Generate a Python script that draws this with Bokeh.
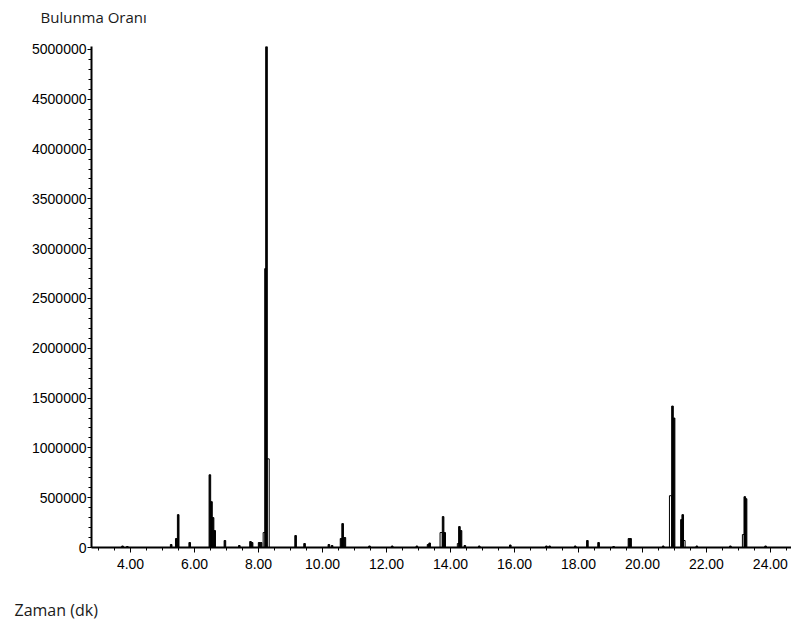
from bokeh.plotting import figure
from bokeh.models import Range1d, SingleIntervalTicker, BasicTickFormatter, NumeralTickFormatter, Title
from bokeh.embed import file_html
from bokeh.resources import INLINE

# Filled (black) peaks: retention time (min), abundance
peak_t = [3.75, 3.9, 5.27, 5.43, 5.49, 5.85, 6.48, 6.53, 6.58, 6.63, 6.95, 7.4, 7.75, 7.8,
          8.02, 8.08, 8.22, 8.25, 9.16, 9.44, 10.2, 10.3, 10.58, 10.63, 10.7, 11.47, 12.18,
          12.95, 13.3, 13.35, 13.77, 13.82, 14.28, 14.33, 14.45, 14.9, 15.87, 17.0, 17.1,
          17.9, 18.28, 18.63, 19.1, 19.58, 19.63, 20.65, 20.94, 20.99, 21.22, 21.26,
          21.7, 22.75, 23.2, 23.24, 23.85]
peak_h = [15000, 10000, 30000, 90000, 330000, 50000, 730000, 460000, 300000, 170000, 70000,
          20000, 60000, 50000, 50000, 50000, 2800000, 5050000, 120000, 40000, 30000, 20000,
          90000, 240000, 100000, 15000, 15000, 15000, 30000, 45000, 310000, 150000, 210000,
          170000, 20000, 15000, 25000, 15000, 15000, 15000, 70000, 50000, 10000, 90000,
          90000, 15000, 1420000, 1300000, 280000, 330000, 15000, 15000, 510000, 490000, 15000]

# Open (outlined) peaks
open_t = [8.18, 8.3, 13.71, 14.25, 20.88, 21.3, 23.16]
open_h = [150000, 890000, 150000, 40000, 520000, 70000, 130000]

p = figure(width=791, height=627, output_backend="svg", toolbar_location=None,
           x_range=Range1d(2.78, 24.66), y_range=Range1d(0, 5030000),
           min_border_left=91, min_border_top=46, min_border_bottom=80, min_border_right=0)
p.outline_line_color = None
p.grid.grid_line_color = None
p.background_fill_color = "white"
p.border_fill_color = "white"

p.vbar(x=open_t, top=open_h, width=0.07, fill_color="white", line_color="black", line_width=1)
p.vbar(x=peak_t, top=peak_h, width=0.05, fill_color="black", line_color="black", line_width=1)

xa = p.xaxis[0]
xa.ticker = SingleIntervalTicker(interval=2, num_minor_ticks=4)
xa.formatter = NumeralTickFormatter(format="0.00")
ya = p.yaxis[0]
ya.ticker = SingleIntervalTicker(interval=500000, num_minor_ticks=5)
ya.formatter = BasicTickFormatter(use_scientific=False)
for ax in (xa, ya):
    ax.axis_line_color = "black"
    ax.axis_line_width = 2
    ax.major_tick_line_color = "black"
    ax.minor_tick_line_color = "black"
    ax.major_tick_in = 0
    ax.minor_tick_in = 0
    ax.minor_tick_out = 3
    ax.major_label_text_font = "Liberation Sans"
    ax.major_label_text_font_size = "14px"
    ax.major_label_text_color = "black"
xa.major_tick_out = 5
xa.major_label_standoff = 6
ya.major_tick_out = 4
ya.major_label_standoff = 1

p.add_layout(Title(text="Bulunma Oranı\n", align="left", offset=-51, standoff=0,
                   text_font="Open Sans", text_font_size="15px", text_color="#1a1a1a",
                   text_font_style="normal"), "above")
p.add_layout(Title(text="\nZaman (dk)", align="left", offset=-77, standoff=6,
                   text_font="Open Sans", text_font_size="16px", text_color="#1a1a1a",
                   text_font_style="normal"), "below")

open("out.html", "w").write(file_html(p, INLINE))
